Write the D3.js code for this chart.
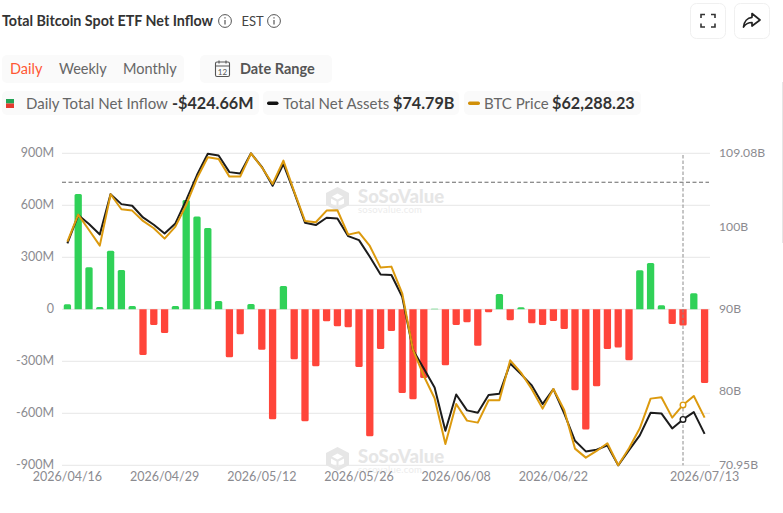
<!DOCTYPE html>
<html><head><meta charset="utf-8">
<script src="https://cdn.jsdelivr.net/npm/d3@7/dist/d3.min.js"></script>
<style>html,body{margin:0;padding:0;background:#fff}svg{display:block;font-family:Lato,sans-serif}</style>
</head><body><svg id="c" width="783" height="513"></svg>
<script>
const dates=["2026/04/16","2026/04/17","2026/04/20","2026/04/21","2026/04/22","2026/04/23","2026/04/24","2026/04/27","2026/04/28","2026/04/29","2026/04/30","2026/05/01","2026/05/04","2026/05/05","2026/05/06","2026/05/07","2026/05/08","2026/05/11","2026/05/12","2026/05/13","2026/05/14","2026/05/15","2026/05/18","2026/05/19","2026/05/20","2026/05/21","2026/05/22","2026/05/26","2026/05/27","2026/05/28","2026/05/29","2026/06/01","2026/06/02","2026/06/03","2026/06/04","2026/06/05","2026/06/08","2026/06/09","2026/06/10","2026/06/11","2026/06/12","2026/06/15","2026/06/16","2026/06/17","2026/06/18","2026/06/22","2026/06/23","2026/06/24","2026/06/25","2026/06/26","2026/06/29","2026/06/30","2026/07/01","2026/07/02","2026/07/06","2026/07/07","2026/07/08","2026/07/09","2026/07/10","2026/07/13"];
const inflow=[29,665,242,13,338,227,19,-263,-90,-137,19,630,535,469,48,-277,-144,31,-233,-635,135,-288,-646,-329,-69,-98,-104,-333,-733,-229,-125,-483,-519,-396,3,-323,-90,-75,-211,-17,88,-63,12,-81,-90,-67,-113,-467,-694,-444,-229,-221,-294,225,267,23,-85,-94,92,-424.66];
const assets=[98.07,101.53,100.43,99.16,104.09,102.87,102.67,101.24,100.35,99.29,100.51,103.36,106.42,109.02,108.82,106.78,106.62,109.08,107.43,105.11,107.76,104.30,100.59,100.31,101.20,101.12,98.96,98.47,96.44,94.28,94.20,91.55,85.03,82.79,80.47,75.17,79.61,77.66,77.37,79.53,79.69,83.40,82.10,80.71,78.43,80.26,77.29,73.95,72.65,72.85,73.38,70.95,72.81,74.60,77.37,77.29,75.46,76.56,77.45,74.79];
const price=[78079,80501,79125,77720,82325,80979,80860,79933,79275,78348,79424,81368,83760,85644,85494,83909,83909,86000,84747,83252,85345,82564,79933,79813,80860,80890,78707,78916,77690,75747,75836,73444,68361,66029,64026,59930,63518,62023,61843,63846,63846,67435,66328,64833,63099,64863,62979,59511,58704,59302,59989,58016,59541,61335,63996,64116,62292,63428,64235,62288.23];
const leftTicks=[900,600,300,0,-300,-600,-900];
const rightTicks=[109.08,100,90,80,70.95];
const xLabels=["2026/04/16","2026/04/29","2026/05/12","2026/05/26","2026/06/08","2026/06/22","2026/07/13"];
const hoverDate="2026/07/09";
const refLevel=733;

const svg=d3.select("#c");
const X0=62,X1=710,Y0=465.3,Y1=153.3;
const x=d3.scaleBand().domain(dates).range([X0,X1]);
const yL=d3.scaleLinear().domain([-900,900]).range([Y0,Y1]);
const yR=d3.scaleLinear().domain([70.95,109.08]).range([Y0,Y1]);
const yP=d3.scaleLinear().domain([58016,86000]).range([Y0,Y1]);
const cx=d=>x(d)+x.bandwidth()/2;
const GR="#8b8b90";

svg.append("rect").attr("x",782).attr("y",82).attr("width",1).attr("height",161).attr("fill","#e6e6e6");

const T=(s,px,py,size,col,w,anchor)=>svg.append("text").attr("x",px).attr("y",py).attr("font-size",size).attr("fill",col).attr("font-weight",w||400).attr("text-anchor",anchor||"start").text(s);
T("Total Bitcoin Spot ETF Net Inflow",2,26,14.3,"#333",700);
function info(cx_,cy_){const g=svg.append("g").attr("transform",`translate(${cx_},${cy_})`).attr("fill","none").attr("stroke","#555");
 g.append("circle").attr("r",6.4).attr("stroke-width",1);
 g.append("path").attr("d","M0 -1V3.5").attr("stroke-width",1.2);
 g.append("path").attr("d","M0 -3.8V-2.6").attr("stroke-width",1.2);}
info(225,21);T("EST",241.5,26,13,"#444");info(274,21);

function btn(px){svg.append("rect").attr("x",px).attr("y",3.5).attr("width",35).attr("height",35).attr("rx",6).attr("fill","#fff").attr("stroke","#f0f0f0");}
btn(690.5);btn(734.5);
svg.append("path").attr("d","M701 18V14.5H705M715 18V14.5H711M701 23.500V27H705M715 23.500V27H711").attr("fill","none").attr("stroke","#333").attr("stroke-width",1.6);
svg.append("path").attr("d","M752 13.500L760 20L752 26V22.500C748 22.500 745.500 24 743.500 27C744 21.500 747.500 17.800 752 17.300Z").attr("fill","none").attr("stroke","#222").attr("stroke-width",1.7).attr("stroke-linejoin","round");

const box=(a,b,y,h)=>svg.append("rect").attr("x",a).attr("y",y).attr("width",b-a).attr("height",h).attr("rx",5).attr("fill","#fafafa");
box(2,184,55,28);box(200,332,55,28);box(2,259,91,24);box(263,459,91,24);box(464,641,91,24);
T("Daily",10,74,14.5,"#ff5733");T("Weekly",59,74,14.5,"#666");T("Monthly",123,74,14.5,"#666");
const cal=svg.append("g").attr("fill","none").attr("stroke","#555").attr("stroke-width",1.1);
cal.append("rect").attr("x",215.500).attr("y",62).attr("width",14).attr("height",14.500).attr("rx",1.500);
cal.append("path").attr("d","M215.500 66H229.500M219 60.500V63.500M226 60.500V63.500");
svg.append("text").attr("x",222.500).attr("y",75).attr("font-size",8).attr("text-anchor","middle").attr("fill","#555").text("12");
T("Date Range",240,74,14.500,"#555",700);

svg.append("rect").attr("x",6).attr("y",99).attr("width",8).attr("height",4.500).attr("fill","#23a455");
svg.append("rect").attr("x",6).attr("y",103.500).attr("width",8).attr("height",4.500).attr("fill","#e5392f");
T("Daily Total Net Inflow",26,108.5,15,"#666");T("-$424.66M",172,108.5,16.2,"#333",700);
svg.append("rect").attr("x",267).attr("y",101.500).attr("width",11.500).attr("height",3.500).attr("rx",1.700).attr("fill","#111");
T("Total Net Assets",283,108.5,15,"#666");T("$74.79B",393,108.5,16.2,"#333",700);
svg.append("rect").attr("x",468).attr("y",101.500).attr("width",12).attr("height",3.500).attr("rx",1.700).attr("fill","#d18f08");
T("BTC Price",484,108.5,15,"#666");T("$62,288.23",552,108.5,16.2,"#333",700);

svg.append("g").selectAll("line").data(leftTicks).join("line").attr("x1",X0).attr("x2",X1).attr("y1",d=>yL(d)).attr("y2",d=>yL(d)).attr("stroke","#e6e6e6").attr("stroke-width",1);

function mark(tx,ty){const g=svg.append("g").attr("transform",`translate(${tx},${ty})`);
 g.append("path").attr("d","M0 -12L11.500 -6V6L0 12L-11.500 6V-6Z M0 -5.500L-5.500 -2.500L0 .5L5.500 -2.500Z M-6.500 -.5V4.500L-1 7.500V2.500Z M6.500 -.5V4.500L1 7.500V2.500Z").attr("fill","#e6e6e6").attr("fill-rule","evenodd");
 g.append("text").attr("x",20.500).attr("y",4).attr("font-size",18.5).attr("font-weight",900).attr("fill","#e6e6e6").text("SoSoValue");
 g.append("text").attr("x",20.500).attr("y",13.500).attr("font-size",9.500).attr("fill","#ececec").attr("letter-spacing",.25).text("sosovalue.com");}
mark(337.500,199);mark(337.500,459);

const bw=7.3;
svg.append("g").selectAll("path").data(d3.zip(dates,inflow)).join("path")
 .attr("fill",d=>d[1]>=0?"#30d158":"#ff453a")
 .attr("d",d=>{const a=cx(d[0])-bw/2,t=yL(d[1]),z=yL(0),h=Math.abs(t-z),r=Math.min(1.500,h);
   return d[1]>=0?`M${a} ${z}V${t+r}Q${a} ${t} ${a+r} ${t}H${a+bw-r}Q${a+bw} ${t} ${a+bw} ${t+r}V${z}Z`
                 :`M${a} ${z}V${t-r}Q${a} ${t} ${a+r} ${t}H${a+bw-r}Q${a+bw} ${t} ${a+bw} ${t-r}V${z}Z`;});

svg.append("line").attr("x1",X0).attr("x2",X1-1).attr("y1",yL(refLevel)).attr("y2",yL(refLevel)).attr("stroke","#666").attr("stroke-width",1).attr("stroke-dasharray","4 2.500");

const ln=(s,y)=>d3.line().x((d,i)=>cx(dates[i])).y(d=>y(d))(s);
svg.append("path").attr("d",ln(assets,yR)).attr("fill","none").attr("stroke","#1c1c1c").attr("stroke-width",2).attr("stroke-linejoin","round");
svg.append("path").attr("d",ln(price,yP)).attr("fill","none").attr("stroke","#dc9a0e").attr("stroke-width",2).attr("stroke-linejoin","round");

const hi=dates.indexOf(hoverDate);
svg.append("line").attr("x1",cx(hoverDate)).attr("x2",cx(hoverDate)).attr("y1",155).attr("y2",Y0).attr("stroke","#8c8c8c").attr("stroke-width",1).attr("stroke-dasharray","3.500 2");
svg.append("circle").attr("cx",cx(hoverDate)).attr("cy",yR(assets[hi])).attr("r",2.800).attr("fill","#fff").attr("stroke","#1c1c1c").attr("stroke-width",1.400);
svg.append("circle").attr("cx",cx(hoverDate)).attr("cy",yP(price[hi])).attr("r",2.800).attr("fill","#fff").attr("stroke","#dc9a0e").attr("stroke-width",1.400);

const fmtL=d=>d===0?"0":d+"M";
const ax=svg.append("g").attr("transform",`translate(${X0},0)`).call(d3.axisLeft(yL).tickValues(leftTicks).tickFormat(fmtL).tickSize(0).tickPadding(8));
const ar=svg.append("g").attr("transform",`translate(${X1},0)`).call(d3.axisRight(yR).tickValues(rightTicks).tickFormat(d=>d+"B").tickSize(0).tickPadding(9));
const ab=svg.append("g").attr("transform",`translate(0,${Y0})`).call(d3.axisBottom(x).tickValues(xLabels).tickSize(0).tickPadding(7));
[ax,ab].forEach(g=>{g.select(".domain").remove();g.selectAll("text").attr("font-family","Lato,sans-serif").attr("font-size",12.5).attr("fill",GR);});
ar.select(".domain").remove();ar.selectAll("text").attr("font-family","Lato,sans-serif").attr("font-size",12.2).attr("fill",GR);
ax.selectAll("text").attr("dy","0.24em");ar.selectAll("text").attr("dy","0.24em");
</script></body></html>
